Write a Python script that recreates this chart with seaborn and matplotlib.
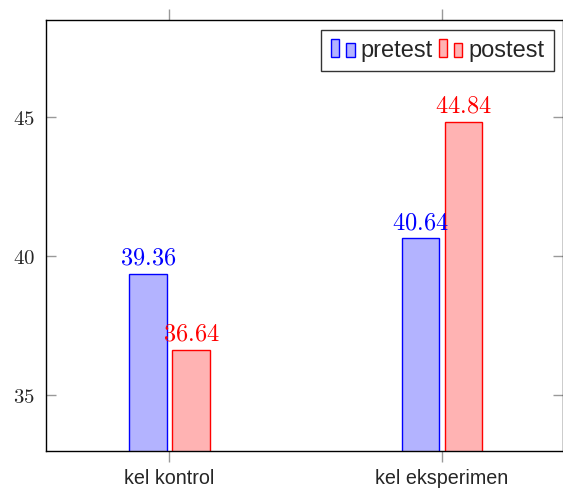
import matplotlib
matplotlib.use("Agg")
import matplotlib.pyplot as plt
import seaborn as sns
import pandas as pd
from matplotlib.legend_handler import HandlerBase
from matplotlib.patches import Rectangle

# data
groups = ["kel kontrol", "kel eksperimen"]
pretest = [39.36, 40.64]
postest = [36.64, 44.84]
series = ["pretest", "postest"]

fill_colors = {"pretest": (0.7, 0.7, 1.0), "postest": (1.0, 0.7, 0.7)}
edge_colors = {"pretest": (0.0, 0.0, 1.0), "postest": (1.0, 0.0, 0.0)}

df = pd.DataFrame({
    "group": groups * 2,
    "series": ["pretest"] * len(groups) + ["postest"] * len(groups),
    "value": pretest + postest,
})


class TwoBars(HandlerBase):
    # pgfplots-style ybar legend glyph: two small bars
    def create_artists(self, legend, orig_handle, xdescent, ydescent,
                       width, height, fontsize, trans):
        fc = orig_handle.get_facecolor()
        ec = orig_handle.get_edgecolor()
        w = width * 0.36
        r1 = Rectangle((-xdescent, -ydescent), w, height,
                       facecolor=fc, edgecolor=ec, lw=1.0, transform=trans)
        r2 = Rectangle((-xdescent + width - w, -ydescent), w, height * 0.82,
                       facecolor=fc, edgecolor=ec, lw=1.0, transform=trans)
        return [r1, r2]


sns.set_theme(style="white")
plt.rcParams["font.family"] = ["Liberation Sans", "DejaVu Sans"]
plt.rcParams["mathtext.fontset"] = "cm"

fig = plt.figure(figsize=(5.63, 4.91), dpi=100)
ax = fig.add_axes([46 / 563, 1 - 451 / 491, 1 - 46 / 563, (451 - 20) / 491])

sns.barplot(
    data=df, x="group", y="value", hue="series", hue_order=series,
    palette=fill_colors, saturation=1, width=0.316, gap=0.12,
    legend=False, ax=ax, errorbar=None,
)

for name, cont in zip(series, ax.containers):
    for bar in cont:
        bar.set_edgecolor(edge_colors[name])
        bar.set_linewidth(1.0)
    vals = pretest if name == "pretest" else postest
    ax.bar_label(cont, labels=[rf"${v:.2f}$" for v in vals], padding=3,
                 color=edge_colors[name], fontsize=17.5)

ax.set_ylim(32.99, 48.5)
ax.set_xlim(-0.453, 1.444)
ax.set_yticks([35, 40, 45])
ax.set_yticklabels([r"$35$", r"$40$", r"$45$"], fontsize=15)
ax.set_xticks(range(len(groups)))
ax.set_xticklabels(groups, fontsize=14.2)
ax.set_xlabel("")
ax.set_ylabel("")

ax.tick_params(axis="x", direction="out", top=True, bottom=True,
               length=8, width=1, color="0.6", pad=5)
ax.tick_params(axis="y", direction="in", left=True, right=True,
               length=7, width=1, color="0.6", pad=8)
for sp in ax.spines.values():
    sp.set_visible(True)
    sp.set_color("black")
    sp.set_linewidth(1.0)

handles = [Rectangle((0, 0), 1, 1, facecolor=fill_colors[s],
                     edgecolor=edge_colors[s]) for s in series]
leg = ax.legend(handles, series, handler_map={Rectangle: TwoBars()},
                loc="upper right", bbox_to_anchor=(0.982, 0.977), ncol=2,
                fontsize=17, frameon=True, fancybox=False,
                handlelength=1.0, handleheight=0.8, handletextpad=0.25,
                columnspacing=0.25, borderpad=0.4, borderaxespad=0)
leg.get_frame().set_edgecolor("black")
leg.get_frame().set_linewidth(1.0)

plt.savefig("out.png", dpi=100)
